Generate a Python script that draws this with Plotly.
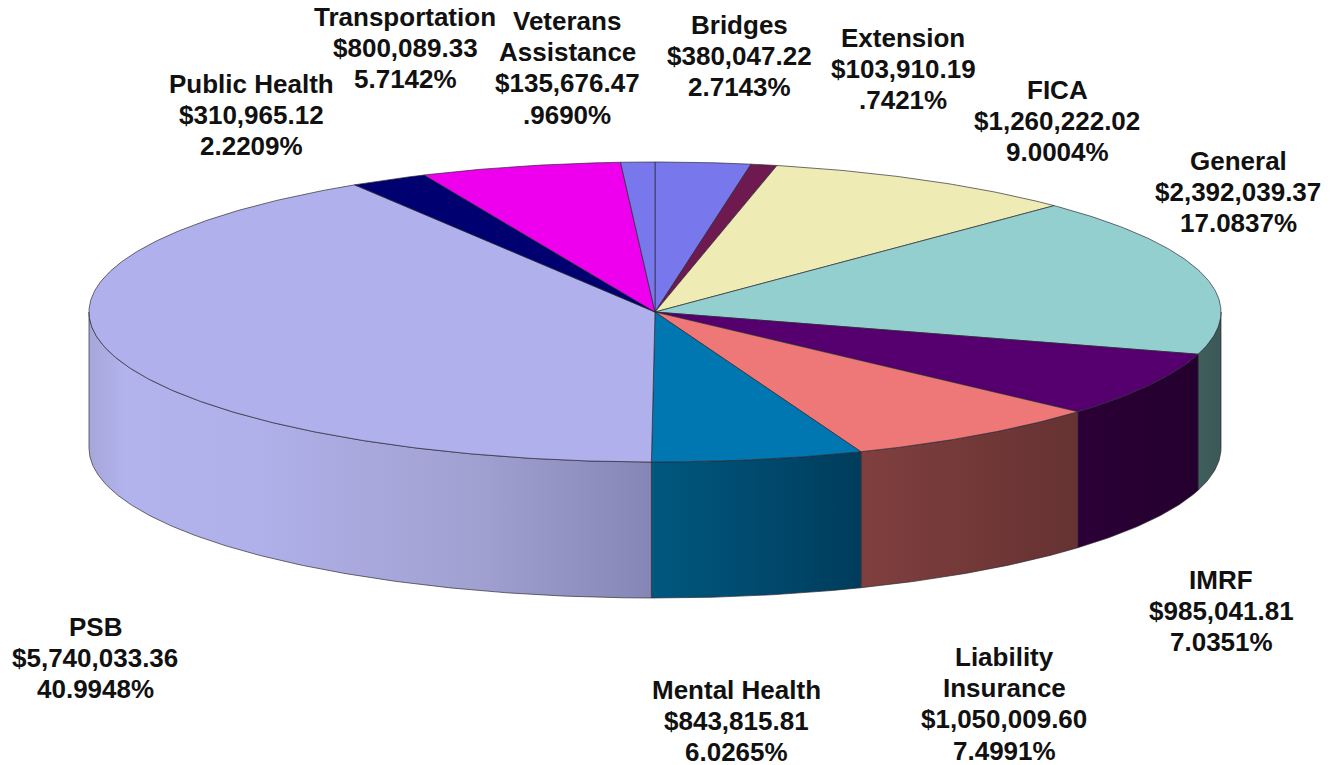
import numpy as np
import plotly.graph_objects as go

# ---------------- data (clockwise from 12 o'clock) ----------------
categories = ["Bridges", "Extension", "FICA", "General", "IMRF",
              "Liability Insurance", "Mental Health", "PSB",
              "Public Health", "Transportation", "Veterans Assistance"]
label_names = [["Bridges"], ["Extension"], ["FICA"], ["General"], ["IMRF"],
               ["Liability", "Insurance"], ["Mental Health"], ["PSB"],
               ["Public Health"], ["Transportation"], ["Veterans", "Assistance"]]
values = [380047.22, 103910.19, 1260222.02, 2392039.37, 985041.81,
          1050009.60, 843815.81, 5740033.36, 310965.12, 800089.33, 135676.47]
percent_labels = ["2.7143%", ".7421%", "9.0004%", "17.0837%", "7.0351%",
                  "7.4991%", "6.0265%", "40.9948%", "2.2209%", "5.7142%", ".9690%"]

# ---------------- styles ----------------
top_colors = ["#7878EC", "#6E1A50", "#EEEBB4", "#93CFCF", "#55006E",
              "#EE7777", "#0077B0", "#B0B0EC", "#000070", "#EE00EE", "#7878EC"]
side_scales = [
    [[0, "#5050A0"], [1, "#404080"]],
    [[0, "#4A1036"], [1, "#3A0A2A"]],
    [[0, "#A09E78"], [1, "#807E60"]],
    [[0, "#3F5F5D"], [1, "#3A5856"]],
    [[0, "#2B0036"], [1, "#24002E"]],
    [[0, "#803F3F"], [1, "#663232"]],
    [[0, "#00587F"], [1, "#003C5C"]],
    [[0, "#A6A6DA"], [0.06, "#B2B2EC"], [0.3, "#B0B0EA"], [0.7, "#A0A0D0"], [1, "#8686B6"]],
    [[0, "#00004A"], [1, "#000038"]],
    [[0, "#A000A0"], [1, "#800080"]],
    [[0, "#5050A0"], [1, "#404080"]],
]
# (x centre, y centre of first text line) in page pixels
label_pos = [(739, 25), (903, 38), (1057, 90), (1238, 161), (1221, 580),
             (1004, 657), (736, 690), (95, 627), (251, 84), (405, 17), (567, 21)]
LINE_STEP = 31.2

# page pixel geometry (figure is offset 8px by the page margin)
OFF = 8
CX, CY, A, B, DEPTH = 655, 312, 566, 150, 136
EDGE = "rgba(40,40,50,0.85)"


def arc(t0, t1, n_per_deg=2):
    n = max(2, int(abs(t1 - t0) * n_per_deg) + 1)
    th = np.radians(np.linspace(t0, t1, n))
    return CX + A * np.sin(th), CY - B * np.cos(th)


total = sum(values)
bounds = np.concatenate([[0], np.cumsum(values) / total * 360.0])

fig = go.Figure()

# side walls (front half only: 90..270 deg clockwise from top)
for i in range(len(values)):
    s, e = max(bounds[i], 90), min(bounds[i + 1], 270)
    if e <= s:
        continue
    xt, yt = arc(s, e)
    xs = np.concatenate([xt, xt[::-1], xt[:1]])
    ys = np.concatenate([yt, yt[::-1] + DEPTH, yt[:1]])
    fig.add_trace(go.Scatter(
        x=xs, y=ys, mode="lines", fill="toself",
        fillgradient=dict(type="horizontal", colorscale=side_scales[i]),
        line=dict(color=EDGE, width=0.8), hoverinfo="skip", showlegend=False))

# top faces
for i in range(len(values)):
    xt, yt = arc(bounds[i], bounds[i + 1])
    xs = np.concatenate([[CX], xt, [CX]])
    ys = np.concatenate([[CY], yt, [CY]])
    fig.add_trace(go.Scatter(
        x=xs, y=ys, mode="lines", fill="toself", fillcolor=top_colors[i],
        line=dict(color=EDGE, width=0.8), name=categories[i],
        hovertemplate=f"{categories[i]}<br>${values[i]:,.2f}<br>{percent_labels[i]}<extra></extra>",
        showlegend=False))

# labels: one annotation per line for exact line spacing
for i in range(len(values)):
    x, y = label_pos[i]
    lines = label_names[i] + [f"${values[i]:,.2f}", percent_labels[i]]
    for k, ln in enumerate(lines):
        fig.add_annotation(
            x=x, y=y + k * LINE_STEP, xref="x", yref="y", showarrow=False,
            text=f"<b>{ln}</b>", borderpad=0,
            font=dict(family="Liberation Sans, Arial, sans-serif", size=26, color="#111111"),
            xanchor="center", yanchor="middle", align="center")

fig.update_layout(
    width=1338 - OFF, height=765 - OFF,
    margin=dict(l=0, r=0, t=0, b=0),
    paper_bgcolor="white", plot_bgcolor="white",
    xaxis=dict(range=[OFF, 1338], visible=False, fixedrange=True),
    yaxis=dict(range=[765, OFF], visible=False, fixedrange=True),
)

fig.write_html("out.html")
